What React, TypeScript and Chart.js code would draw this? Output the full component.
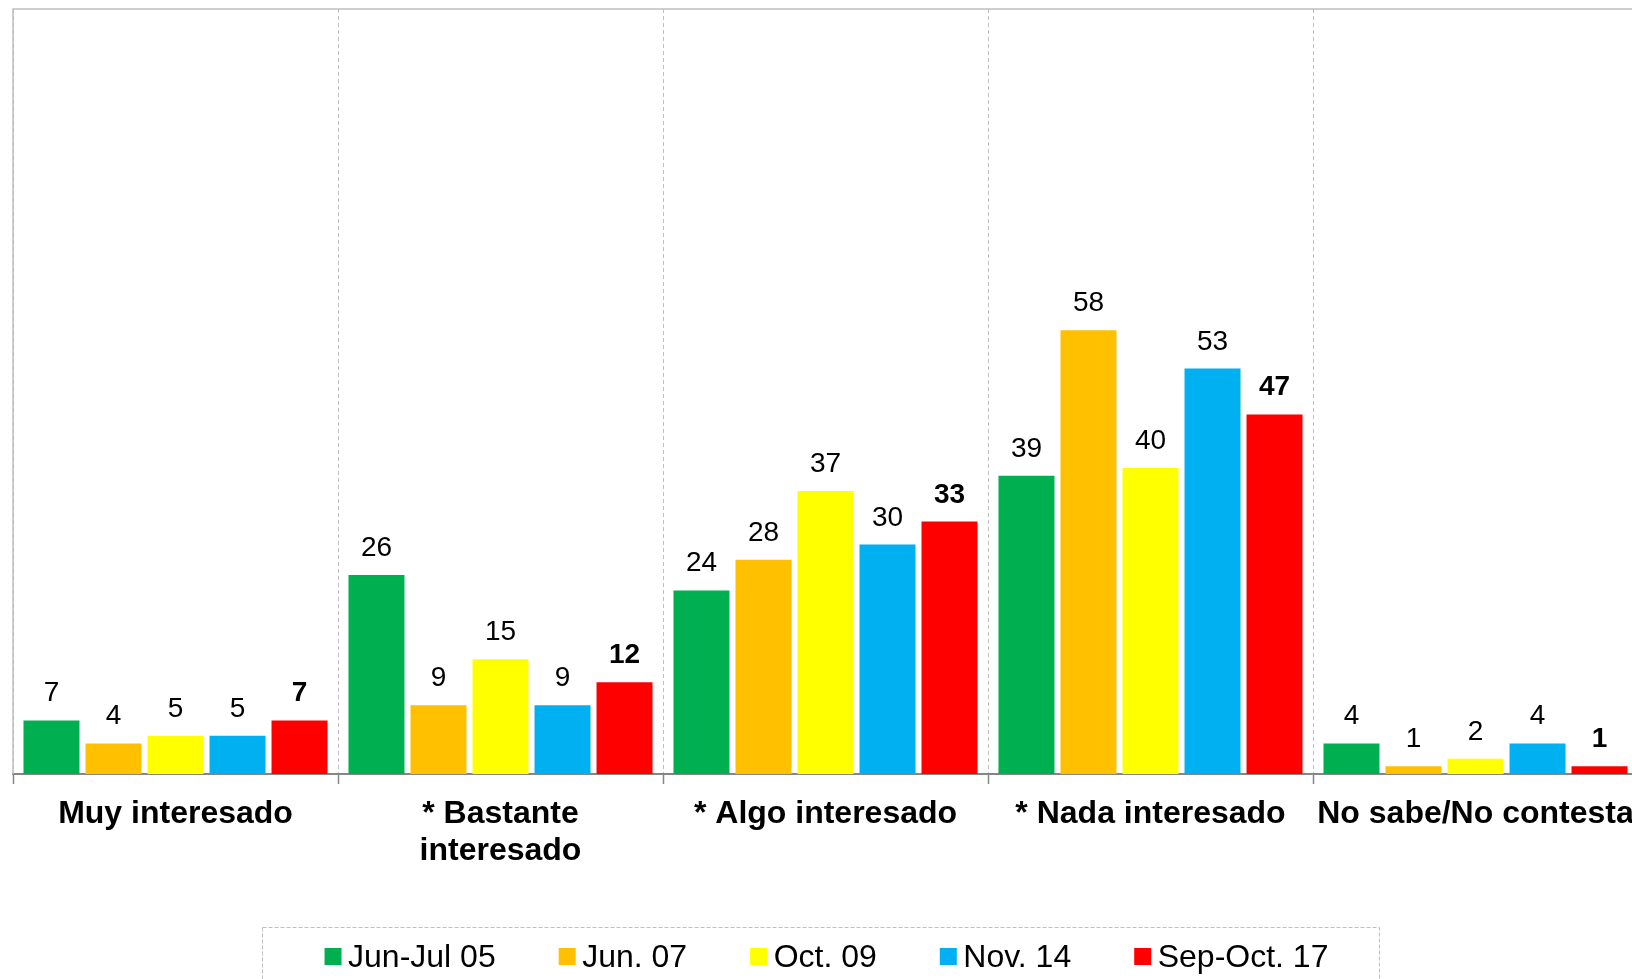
import React, { useEffect, useRef } from "react";
import { Chart, registerables } from "chart.js";

Chart.register(...registerables);

const categories: (string | string[])[] = [
  "Muy interesado",
  ["* Bastante", "interesado"],
  "* Algo interesado",
  "* Nada interesado",
  "No sabe/No contesta",
];
const seriesNames = ["Jun-Jul 05", "Jun. 07", "Oct. 09", "Nov. 14", "Sep-Oct. 17"];
const seriesColors = ["#00B050", "#FFC000", "#FFFF00", "#00B0F0", "#FF0000"];
const junJul05 = [7, 26, 24, 39, 4];
const jun07 = [4, 9, 28, 58, 1];
const oct09 = [5, 15, 37, 40, 2];
const nov14 = [5, 9, 30, 53, 4];
const sepOct17 = [7, 12, 33, 47, 1];
const seriesValues = [junJul05, jun07, oct09, nov14, sepOct17];
const boldSeries = [false, false, false, false, true];

const FONT = '"Liberation Sans", Arial, sans-serif';

const frame = {
  id: "frame",
  beforeDatasetsDraw(chart: any) {
    const { ctx, chartArea: a } = chart;
    ctx.save();
    ctx.strokeStyle = "#BFBFBF";
    ctx.lineWidth = 1.5;
    ctx.setLineDash([]);
    ctx.beginPath();
    ctx.moveTo(a.left, a.bottom);
    ctx.lineTo(a.left, a.top);
    ctx.lineTo(a.right, a.top);
    ctx.lineTo(a.right, a.bottom);
    ctx.stroke();
    ctx.restore();
  },
};

const valueLabels = {
  id: "valueLabels",
  afterDatasetsDraw(chart: any) {
    const ctx = chart.ctx;
    ctx.save();
    ctx.fillStyle = "#000";
    ctx.textAlign = "center";
    ctx.textBaseline = "alphabetic";
    chart.data.datasets.forEach((ds: any, i: number) => {
      const meta = chart.getDatasetMeta(i);
      ctx.font = `${boldSeries[i] ? "bold " : ""}28px ${FONT}`;
      meta.data.forEach((el: any, j: number) => {
        ctx.fillText(String(ds.data[j]), el.x, el.y - 19);
      });
    });
    ctx.restore();
  },
};

const boxLegend = {
  id: "boxLegend",
  afterDraw(chart: any) {
    const ctx = chart.ctx;
    ctx.save();
    ctx.font = `32px ${FONT}`;
    const sw = 17;
    const gapText = 6.5;
    const gapItem = 63;
    const widths = seriesNames.map((n) => ctx.measureText(n).width);
    const total =
      widths.reduce((s, w) => s + sw + gapText + w, 0) + gapItem * (seriesNames.length - 1);
    let x = 826.5 - total / 2;
    ctx.strokeStyle = "#BFBFBF";
    ctx.lineWidth = 1;
    ctx.setLineDash([4, 2]);
    ctx.strokeRect(262.5, 927.5, 1117, 100);
    ctx.setLineDash([]);
    ctx.textAlign = "left";
    ctx.textBaseline = "alphabetic";
    seriesNames.forEach((n, i) => {
      ctx.fillStyle = seriesColors[i];
      ctx.fillRect(x, 948, sw, sw);
      ctx.fillStyle = "#000";
      ctx.fillText(n, x + sw + gapText, 967.3);
      x += sw + gapText + widths[i] + gapItem;
    });
    ctx.restore();
  },
};

export default function App() {
  const ref = useRef<HTMLCanvasElement>(null);

  useEffect(() => {
    if (!ref.current) return;
    const chart = new Chart(ref.current, {
      type: "bar",
      data: {
        labels: categories,
        datasets: seriesNames.map((name, i) => ({
          label: name,
          data: seriesValues[i],
          backgroundColor: seriesColors[i],
          borderWidth: 0,
          categoryPercentage: 0.954,
          barPercentage: 0.903,
        })),
      },
      options: {
        responsive: false,
        animation: false,
        devicePixelRatio: 1,
        layout: { padding: { left: 13, right: 14, top: 9, bottom: 0 } },
        plugins: { legend: { display: false }, tooltip: { enabled: false } },
        scales: {
          x: {
            grid: {
              display: true,
              color: "#BFBFBF",
              lineWidth: 1,
              drawTicks: true,
              tickLength: 10,
              tickColor: "#868686",
              tickWidth: 1.5,
              tickBorderDash: [],
              offset: true,
            },
            border: { display: true, color: "#868686", width: 2, dash: [4, 3] },
            ticks: {
              color: "#000",
              font: { family: FONT, size: 32, weight: "bold", lineHeight: 1.15 },
              padding: 12,
              autoSkip: false,
              maxRotation: 0,
              minRotation: 0,
            },
            afterFit: (scale: any) => {
              scale.height = 205;
            },
          },
          y: { display: false, min: 0, max: 100, grid: { display: false } },
        },
      } as any,
      plugins: [frame, valueLabels, boxLegend],
    });
    return () => chart.destroy();
  }, []);

  return (
    <div
      style={{
        position: "fixed",
        left: 0,
        top: 0,
        width: 1632,
        height: 979,
        overflow: "hidden",
        background: "#fff",
      }}
    >
      <canvas ref={ref} width={1652} height={979} style={{ width: 1652, height: 979, display: "block" }} />
    </div>
  );
}
